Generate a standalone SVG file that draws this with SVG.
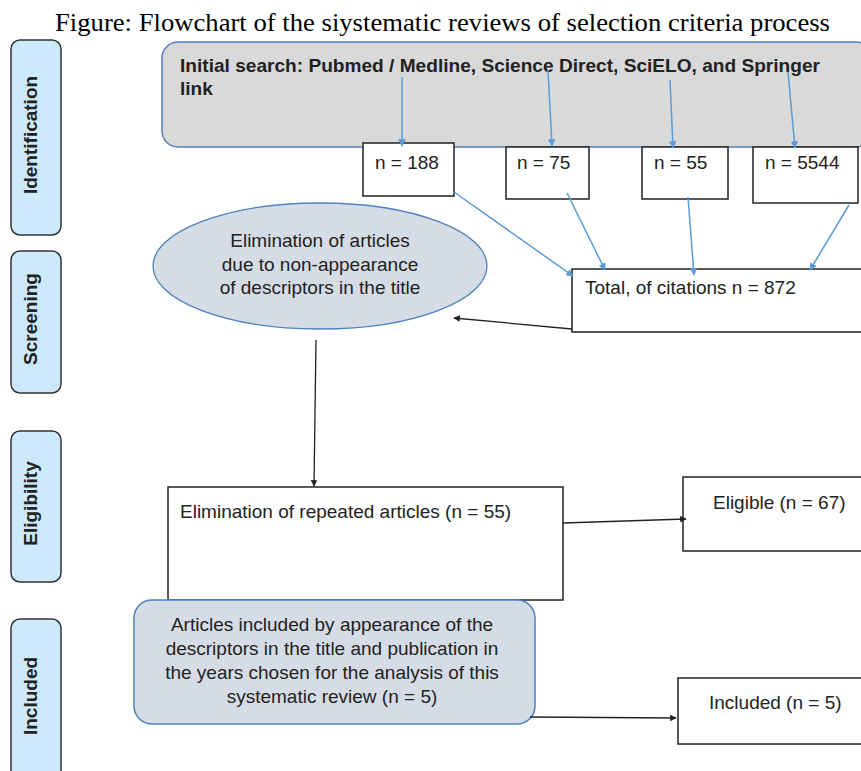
<svg xmlns="http://www.w3.org/2000/svg" width="861" height="771" viewBox="0 0 861 771">
<style>
.side{fill:#cceafb;stroke:#333;stroke-width:1.5}
.sidet{font-family:"Liberation Sans",Arial,sans-serif;font-weight:bold;font-size:19px;fill:#222;text-anchor:middle}
.box{fill:#fff;stroke:#222;stroke-width:1.5}
.t{font-family:"Liberation Sans",Arial,sans-serif;font-size:19px;fill:#222}
.tb{font-family:"Liberation Sans",Arial,sans-serif;font-size:19px;font-weight:bold;fill:#222}
.blue{stroke:#5b9bd5;stroke-width:1.5;fill:none}
.blk{stroke:#222;stroke-width:1.3;fill:none}
</style>
<defs>
<marker id="ab" viewBox="0 0 10 10" refX="9" refY="5" markerWidth="5" markerHeight="5" orient="auto"><path d="M0,0L10,5L0,10z" fill="#5b9bd5"/></marker>
<marker id="ak" viewBox="0 0 10 10" refX="9" refY="5" markerWidth="5" markerHeight="5" orient="auto"><path d="M0,0L10,5L0,10z" fill="#222"/></marker>
</defs>
<rect width="861" height="771" fill="#fff"/>
<text x="442.5" y="31" font-family="Liberation Serif,'Times New Roman',serif" font-size="26" text-anchor="middle" textLength="775" lengthAdjust="spacingAndGlyphs" fill="#000">Figure: Flowchart of the siystematic reviews of selection criteria process</text>

<g id="lane-identification"><rect class="side" x="11" y="40" width="50" height="195" rx="9"/><text class="sidet" transform="translate(37,135) rotate(-90)">Identification</text></g>
<g id="lane-screening"><rect class="side" x="11" y="251" width="50" height="142" rx="9"/><text class="sidet" transform="translate(37,319) rotate(-90)">Screening</text></g>
<g id="lane-eligibility"><rect class="side" x="11" y="431" width="50" height="151" rx="9"/><text class="sidet" transform="translate(37,503.5) rotate(-90)">Eligibility</text></g>
<g id="lane-included"><rect class="side" x="11" y="619" width="50" height="170" rx="9"/><text class="sidet" transform="translate(37,696) rotate(-90)">Included</text></g>

<g id="initial-search"><rect x="162" y="42" width="710" height="105" rx="16" fill="#d9d9d9" stroke="#4f81bd" stroke-width="1.5"/>
<text class="tb" x="180" y="72" textLength="640" lengthAdjust="spacingAndGlyphs">Initial search: Pubmed / Medline, Science Direct, SciELO, and Springer</text>
<text class="tb" x="180" y="95">link</text></g>

<g id="n188"><rect class="box" x="363" y="143" width="91" height="53"/><text class="t" x="375" y="169">n = 188</text></g>
<g id="n75"><rect class="box" x="506" y="147" width="83" height="52"/><text class="t" x="517" y="169">n = 75</text></g>
<g id="n55"><rect class="box" x="642" y="147" width="86" height="52"/><text class="t" x="654" y="169">n = 55</text></g>
<g id="n5544"><rect class="box" x="753" y="147" width="105" height="56"/><text class="t" x="765" y="169">n = 5544</text></g>

<g id="total"><rect class="box" x="572" y="269" width="300" height="63"/><text class="t" x="585" y="294">Total, of citations n = 872</text></g>

<g id="elim-title"><ellipse cx="320" cy="266" rx="167" ry="63" fill="#d6dce5" stroke="#4f81bd" stroke-width="1.3"/>
<text class="t" text-anchor="middle" x="320" y="247">Elimination of articles</text>
<text class="t" text-anchor="middle" x="320" y="271">due to non-appearance</text>
<text class="t" text-anchor="middle" x="320" y="294">of descriptors in the title</text></g>

<g id="elim-repeated"><rect class="box" x="168" y="487" width="395" height="113"/><text class="t" x="180" y="518">Elimination of repeated articles (n = 55)</text></g>

<g id="eligible"><rect class="box" x="683" y="477" width="190" height="74"/><text class="t" x="713" y="509">Eligible (n = 67)</text></g>

<g id="articles-included"><rect x="134" y="600" width="401" height="124" rx="18" fill="#d6dce5" stroke="#4f81bd" stroke-width="1.5"/>
<text class="t" text-anchor="middle" x="332" y="631">Articles included by appearance of the</text>
<text class="t" text-anchor="middle" x="332" y="655">descriptors in the title and publication in</text>
<text class="t" text-anchor="middle" x="332" y="679">the years chosen for the analysis of this</text>
<text class="t" text-anchor="middle" x="332" y="703">systematic review (n = 5)</text></g>

<g id="included"><rect class="box" x="678" y="678" width="195" height="66"/><text class="t" x="709" y="709">Included (n = 5)</text></g>

<g id="connectors">
<line class="blue" x1="402" y1="77" x2="402" y2="146" marker-end="url(#ab)"/>
<line class="blue" x1="548" y1="70" x2="552" y2="146" marker-end="url(#ab)"/>
<line class="blue" x1="670" y1="80" x2="673" y2="148" marker-end="url(#ab)"/>
<line class="blue" x1="788" y1="72" x2="795" y2="148" marker-end="url(#ab)"/>
<line class="blue" x1="454" y1="192" x2="573" y2="276" marker-end="url(#ab)"/>
<line class="blue" x1="567" y1="193" x2="605" y2="270" marker-end="url(#ab)"/>
<line class="blue" x1="688" y1="197" x2="694" y2="275" marker-end="url(#ab)"/>
<line class="blue" x1="849" y1="205" x2="810" y2="270" marker-end="url(#ab)"/>
<line class="blk" x1="572" y1="329" x2="454" y2="318" marker-end="url(#ak)"/>
<line class="blk" x1="316" y1="340" x2="314" y2="486" marker-end="url(#ak)"/>
<line class="blk" x1="563" y1="523" x2="686" y2="519" marker-end="url(#ak)"/>
<line class="blk" x1="530" y1="717" x2="676" y2="718" marker-end="url(#ak)"/>
</g>
</svg>
